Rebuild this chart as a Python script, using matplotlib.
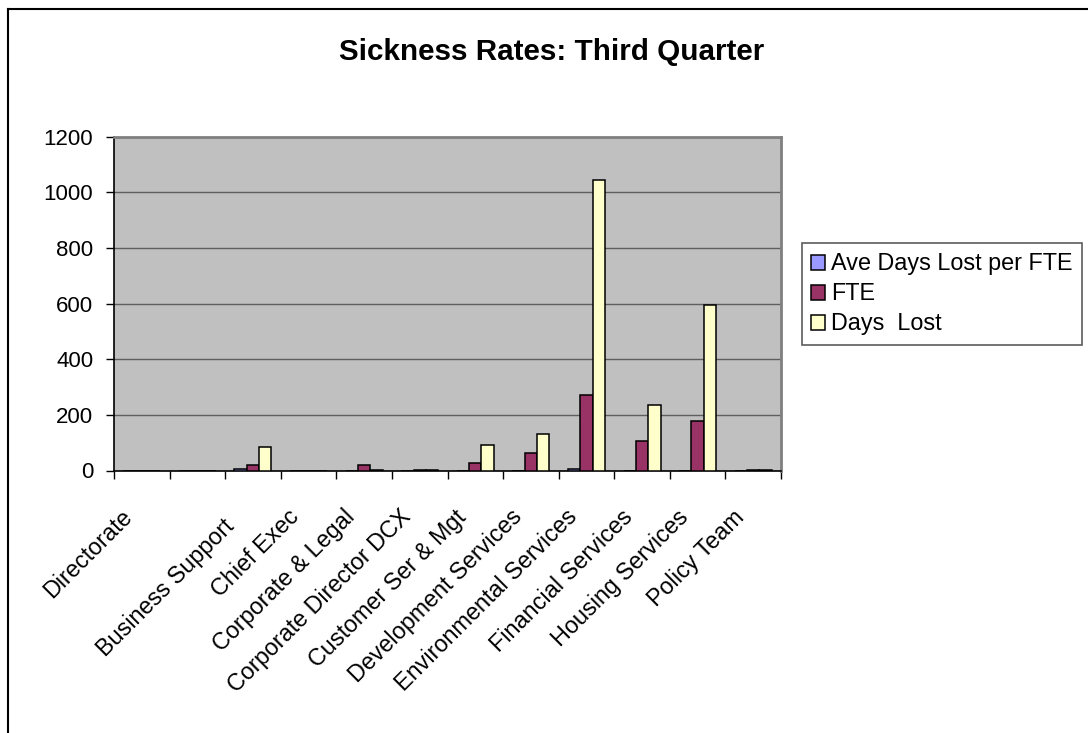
import matplotlib
matplotlib.use("Agg")
import matplotlib.pyplot as plt
from matplotlib.lines import Line2D
import numpy as np

plt.rcParams["font.family"] = ["Liberation Sans", "DejaVu Sans"]

# Sickness figures by department, third quarter
departments = [
    "Directorate", "", "Business Support  ", "Chief Exec", "Corporate & Legal",
    "Corporate Director DCX", "Customer Ser & Mgt", "Development Services",
    "Environmental Services", "Financial Services", "Housing Services",
    "Policy Team",
]
ave_days_lost_per_fte = [0, 0, 4.0, 0, 0, 0, 0, 0, 3.9, 0, 0, 0]
fte = [0, 0, 21, 0, 19, 2, 28, 64, 272, 106, 178, 3]
days_lost = [0, 0, 85, 0, 3, 2, 93, 130, 1043, 236, 596, 2]

series_names = ["Ave Days Lost per FTE", "FTE", "Days  Lost"]
series_colors = ["#9999FF", "#993366", "#FFFFCC"]
y_ticks = [0, 200, 400, 600, 800, 1000, 1200]

W, H = 1088, 733
fig = plt.figure(figsize=(W / 100, H / 100), dpi=100)
fig.patch.set_facecolor("white")

# chart area border (left and top edges)
fig.add_artist(Line2D([7.5 / W, 7.5 / W], [0, 1 - 8.5 / H], transform=fig.transFigure,
                      color="black", lw=1.5))
fig.add_artist(Line2D([7.5 / W, 1], [1 - 8.5 / H, 1 - 8.5 / H], transform=fig.transFigure,
                      color="black", lw=1.5))

left, right, top, bottom = 114, 781, 136.7, 470.5
ax = fig.add_axes([left / W, 1 - bottom / H, (right - left) / W, (bottom - top) / H])
ax.set_facecolor("#C0C0C0")

x = np.arange(len(departments))
bw = 1 / 4.5
for i, (vals, name, col) in enumerate(zip([ave_days_lost_per_fte, fte, days_lost],
                                          series_names, series_colors)):
    ax.bar(x + (i - 1) * bw, vals, width=bw, color=col, edgecolor="black",
           linewidth=1.1, label=name, zorder=3)

ax.set_xlim(-0.5, len(departments) - 0.5)
ax.set_ylim(0, 1200)
ax.set_yticks(y_ticks)
ax.set_yticklabels([str(v) for v in y_ticks], fontsize=16)
ax.yaxis.grid(True, color="#5f5f5f", linewidth=1.0, zorder=1)
ax.set_axisbelow(True)

# category labels sit slightly left of the category centres, as Excel draws them
ax.set_xticks(x - 0.23)
ax.set_xticklabels(departments, rotation=45, ha="right", va="center",
                   rotation_mode="anchor", fontsize=16.8)
ax.set_xticks(np.arange(-0.5, len(departments) + 0.5, 1), minor=True)
ax.tick_params(axis="x", which="major", length=0, pad=31)
ax.tick_params(axis="x", which="minor", length=6, width=1, color="black",
               direction="out")
ax.tick_params(axis="y", length=6, width=1, color="black", direction="out", pad=9)

for s in ["left", "bottom"]:
    ax.spines[s].set_color("black")
    ax.spines[s].set_linewidth(1.2)
for s in ["top", "right"]:
    ax.spines[s].set_color("#808080")
    ax.spines[s].set_linewidth(2)

fig.text(552 / W, 1 - 60 / H, "Sickness Rates: Third Quarter", ha="center",
         va="baseline", fontsize=21.3, fontweight="bold")

leg = fig.legend(loc="upper left", bbox_to_anchor=(802 / W, 1 - 243 / H),
                 bbox_transform=fig.transFigure, fontsize=16.8, frameon=True,
                 fancybox=False, edgecolor="#333333", handlelength=0.6,
                 handleheight=0.6, handletextpad=0.25, borderpad=0.4,
                 labelspacing=0.3, borderaxespad=0)
leg.get_frame().set_linewidth(1.2)

fig.savefig("out.png", dpi=100)
